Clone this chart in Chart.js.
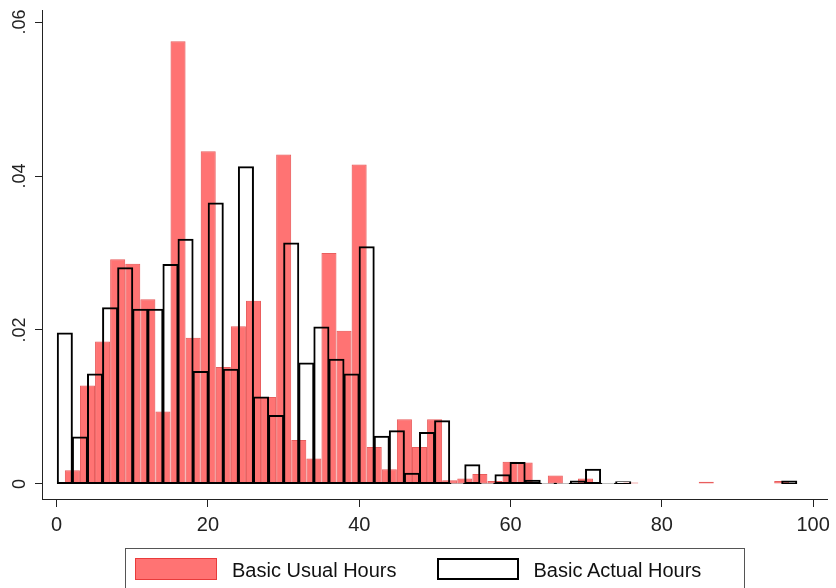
<!DOCTYPE html>
<html>
<head>
<meta charset="utf-8">
<script src="https://cdn.jsdelivr.net/npm/chart.js@4.4.1/dist/chart.umd.min.js"></script>
<style>
  html, body { margin: 0; padding: 0; background: #fff; overflow: hidden; }
  #wrap { position: relative; width: 836px; height: 588px; }
  #legend {
    position: absolute; left: 125px; top: 548px; width: 620px; height: 60px;
    box-sizing: border-box; border: 1px solid #555; padding: 9px 0 0 9px;
    display: flex; align-items: flex-start;
    font: 20px "Liberation Sans", Arial, sans-serif; color: #111;
  }
  .item { display: flex; align-items: center; height: 22px; }
  .item + .item { margin-left: 40px; }
  .swatch { width: 82px; height: 22px; box-sizing: border-box; margin-right: 15px; }
  .item span { position: relative; top: 1px; }
</style>
</head>
<body>
<div id="wrap">
  <canvas id="chart" width="836" height="588"></canvas>
  <div id="legend"></div>
</div>
<script>
const xTicks = [0, 20, 40, 60, 80, 100];
const yTicks = [0, 0.02, 0.04, 0.06];
const yTickLabels = ["0", ".02", ".04", ".06"];

// histogram bins (same width, usual-hours bins shifted half a bin)
const binWidth = 1.995;
const actualStart = 0.08;
const usualStart = 1.08;

const usualHours = [
  0.0018, 0.0128, 0.0185, 0.0292, 0.0286, 0.0240, 0.0094, 0.0575, 0.0190, 0.0432,
  0.0152, 0.0205, 0.0238, 0.0113, 0.0428, 0.0057, 0.0033, 0.0300, 0.0199, 0.0415,
  0.0048, 0.0019, 0.0084, 0.0048, 0.0084, 0.0005, 0.0007, 0.0013, 0.0004, 0.0029,
  0.0028, 0, 0.0011, 0, 0.0007, 0, 0, 0.0002, 0, 0,
  0, 0, 0.0003, 0, 0, 0, 0, 0.0004
];

const actualHours = [
  0.0196, 0.0061, 0.0143, 0.0229, 0.0281, 0.0227, 0.0227, 0.0285, 0.0318, 0.0146,
  0.0365, 0.0149, 0.0412, 0.0113, 0.0089, 0.0313, 0.0157, 0.0204, 0.0162, 0.0143,
  0.0308, 0.0062, 0.0069, 0.0014, 0.0067, 0.0082, 0.0001, 0.0025, 0.0001, 0.0012,
  0.0028, 0.0005, 0.0001, 0.0001, 0.0004, 0.0019, 0.0001, 0.0003, 0, 0,
  0, 0, 0, 0, 0, 0, 0, 0, 0.0004
];

const redFill = "rgba(255, 0, 0, 0.55)";
const redEdge = "rgba(225, 40, 40, 0.75)";

const toBins = (values, start) =>
  values.map((v, i) => ({ x: start + binWidth * (i + 0.5), y: v }));

const yLabelPlugin = {
  id: "yLabels",
  afterDraw(chart) {
    const { ctx } = chart;
    const y = chart.scales.y;
    ctx.save();
    ctx.font = '18px "Liberation Sans", Arial, sans-serif';
    ctx.fillStyle = "#222";
    ctx.textAlign = "center";
    ctx.textBaseline = "middle";
    yTicks.forEach((v, i) => {
      ctx.save();
      ctx.translate(20, y.getPixelForValue(v));
      ctx.rotate(-Math.PI / 2);
      ctx.fillText(yTickLabels[i], 0, 0);
      ctx.restore();
    });
    ctx.restore();
  }
};

const chart = new Chart(document.getElementById("chart"), {
  type: "bar",
  data: {
    datasets: [
      {
        label: "Basic Usual Hours",
        data: toBins(usualHours, usualStart),
        backgroundColor: redFill,
        borderColor: redEdge,
        borderWidth: 1,
        inflateAmount: 0,
        borderSkipped: false,
        grouped: false,
        categoryPercentage: 1,
        barPercentage: 2,
        order: 1
      },
      {
        label: "Basic Actual Hours",
        data: toBins(actualHours, actualStart),
        backgroundColor: "rgba(0, 0, 0, 0)",
        borderColor: "#000",
        borderWidth: 1,
        inflateAmount: 0.5,
        borderSkipped: false,
        grouped: false,
        categoryPercentage: 1,
        barPercentage: 2,
        order: 0
      }
    ]
  },
  options: {
    responsive: false,
    animation: false,
    layout: { padding: { top: 10, right: 8, left: 0, bottom: 49 } },
    plugins: { legend: { display: false }, tooltip: { enabled: false } },
    scales: {
      x: {
        type: "linear",
        offset: false,
        min: -1.94,
        max: 101.85,
        afterBuildTicks: (s) => { s.ticks = xTicks.map((v) => ({ value: v })); },
        afterFit: (s) => { s.height = 40; },
        ticks: {
          callback: (v) => String(v),
          color: "#222",
          padding: 6,
          maxRotation: 0,
          font: { family: '"Liberation Sans", Arial, sans-serif', size: 20 }
        },
        grid: { offset: false, drawOnChartArea: false, drawTicks: true, tickLength: 8, color: "#222" },
        border: { display: true, color: "#222", width: 1 }
      },
      y: {
        min: -0.00195,
        max: 0.06156,
        afterBuildTicks: (s) => { s.ticks = yTicks.map((v) => ({ value: v })); },
        afterFit: (s) => { s.width = 42; },
        ticks: { display: false },
        grid: { drawOnChartArea: false, drawTicks: true, tickLength: 7, color: "#222" },
        border: { display: true, color: "#222", width: 1 }
      }
    }
  },
  plugins: [yLabelPlugin]
});

// legend drawn as html from the chart's datasets
const legend = document.getElementById("legend");
chart.data.datasets.forEach((ds, i) => {
  const item = document.createElement("div");
  item.className = "item";
  const sw = document.createElement("div");
  sw.className = "swatch";
  sw.style.background = i === 0 ? redFill : "#fff";
  sw.style.border = i === 0 ? "1px solid " + redEdge : "2px solid #000";
  const label = document.createElement("span");
  label.textContent = ds.label;
  item.appendChild(sw);
  item.appendChild(label);
  legend.appendChild(item);
});
</script>
</body>
</html>
